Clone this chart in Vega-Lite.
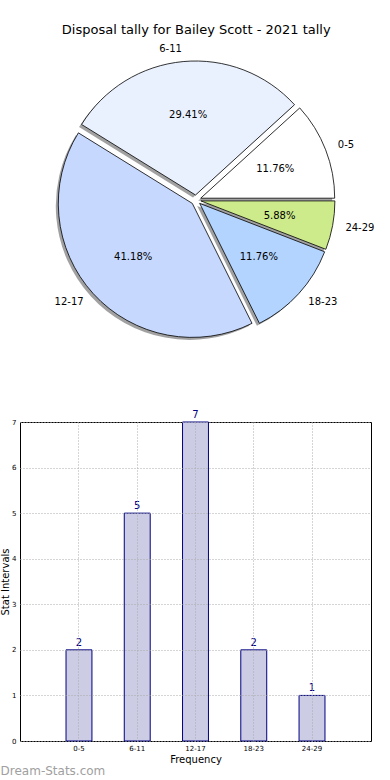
{
  "$schema": "https://vega.github.io/schema/vega-lite/v6.json",
  "padding": {"left": 0, "top": 24, "right": 0, "bottom": 0},
  "title": {"text": "Disposal tally for Bailey Scott - 2021 tally", "fontSize": 13, "fontWeight": "normal", "font": "DejaVu Sans", "offset": 4, "anchor": "middle", "dx": 9, "color": "black"},
  "config": {"font": "DejaVu Sans", "view": {"stroke": null}},
  "bounds": "flush",
  "spacing": 63,
  "datasets": {
    "d": [
      {"cat": "0-5", "count": 2, "pct": "11.76%", "ord": 1},
      {"cat": "6-11", "count": 5, "pct": "29.41%", "ord": 2},
      {"cat": "12-17", "count": 7, "pct": "41.18%", "ord": 3},
      {"cat": "18-23", "count": 2, "pct": "11.76%", "ord": 4},
      {"cat": "24-29", "count": 1, "pct": "5.88%", "ord": 5}
    ]
  },
  "vconcat": [
    {
      "width": 352,
      "height": 318,
      "data": {"name": "d"},
      "view": {"stroke": null},
      "encoding": {
        "theta": {"field": "count", "type": "quantitative", "stack": true, "scale": {"range": [1.5708, -4.7124]}},
        "order": {"field": "ord", "type": "quantitative"}
      },
      "layer": [
        {"mark": {"type": "arc", "outerRadius": 134, "fill": "#444444", "xOffset": 2.2, "yOffset": 0.7}, "encoding": {"opacity": {"condition": {"test": "datum.cat === '0-5'", "value": 0.5}, "value": 0}}},
        {"mark": {"type": "arc", "outerRadius": 134, "fill": "#444444", "xOffset": -3.0, "yOffset": -2.5}, "encoding": {"opacity": {"condition": {"test": "datum.cat === '6-11'", "value": 0.5}, "value": 0}}},
        {"mark": {"type": "arc", "outerRadius": 134, "fill": "#444444", "xOffset": -6.2, "yOffset": 5.9}, "encoding": {"opacity": {"condition": {"test": "datum.cat === '12-17'", "value": 0.5}, "value": 0}}},
        {"mark": {"type": "arc", "outerRadius": 134, "fill": "#444444", "xOffset": 1.2, "yOffset": 5.9}, "encoding": {"opacity": {"condition": {"test": "datum.cat === '18-23'", "value": 0.5}, "value": 0}}},
        {"mark": {"type": "arc", "outerRadius": 134, "fill": "#444444", "xOffset": 2.4, "yOffset": 3.4}, "encoding": {"opacity": {"condition": {"test": "datum.cat === '24-29'", "value": 0.5}, "value": 0}}},

        {"mark": {"type": "arc", "outerRadius": 134, "fill": "#ffffff", "stroke": "black", "strokeWidth": 0.8, "xOffset": 4.7, "yOffset": -1.8}, "encoding": {"opacity": {"condition": {"test": "datum.cat === '0-5'", "value": 1}, "value": 0}}},
        {"mark": {"type": "arc", "outerRadius": 134, "fill": "#eaf1fe", "stroke": "black", "strokeWidth": 0.8, "xOffset": -0.5, "yOffset": -5.0}, "encoding": {"opacity": {"condition": {"test": "datum.cat === '6-11'", "value": 1}, "value": 0}}},
        {"mark": {"type": "arc", "outerRadius": 134, "fill": "#c6d8fe", "stroke": "black", "strokeWidth": 0.8, "xOffset": -3.7, "yOffset": 3.4}, "encoding": {"opacity": {"condition": {"test": "datum.cat === '12-17'", "value": 1}, "value": 0}}},
        {"mark": {"type": "arc", "outerRadius": 134, "fill": "#b3d4fe", "stroke": "black", "strokeWidth": 0.8, "xOffset": 3.7, "yOffset": 3.4}, "encoding": {"opacity": {"condition": {"test": "datum.cat === '18-23'", "value": 1}, "value": 0}}},
        {"mark": {"type": "arc", "outerRadius": 134, "fill": "#ceeb8b", "stroke": "black", "strokeWidth": 0.8, "xOffset": 4.9, "yOffset": 0.9}, "encoding": {"opacity": {"condition": {"test": "datum.cat === '24-29'", "value": 1}, "value": 0}}},

        {"mark": {"type": "text", "radius": 80, "fontSize": 10, "color": "black", "xOffset": 4.7, "yOffset": -1.8}, "encoding": {"text": {"field": "pct"}, "opacity": {"condition": {"test": "datum.cat === '0-5'", "value": 1}, "value": 0}}},
        {"mark": {"type": "text", "radius": 80, "fontSize": 10, "color": "black", "xOffset": -0.5, "yOffset": -5.0}, "encoding": {"text": {"field": "pct"}, "opacity": {"condition": {"test": "datum.cat === '6-11'", "value": 1}, "value": 0}}},
        {"mark": {"type": "text", "radius": 80, "fontSize": 10, "color": "black", "xOffset": -3.7, "yOffset": 3.4}, "encoding": {"text": {"field": "pct"}, "opacity": {"condition": {"test": "datum.cat === '12-17'", "value": 1}, "value": 0}}},
        {"mark": {"type": "text", "radius": 80, "fontSize": 10, "color": "black", "xOffset": 3.7, "yOffset": 3.4}, "encoding": {"text": {"field": "pct"}, "opacity": {"condition": {"test": "datum.cat === '18-23'", "value": 1}, "value": 0}}},
        {"mark": {"type": "text", "radius": 80, "fontSize": 10, "color": "black", "xOffset": 4.9, "yOffset": 0.9}, "encoding": {"text": {"field": "pct"}, "opacity": {"condition": {"test": "datum.cat === '24-29'", "value": 1}, "value": 0}}},

        {"mark": {"type": "text", "radius": 147, "fontSize": 10, "color": "black", "align": "left", "xOffset": 4.7, "yOffset": -1.8}, "encoding": {"text": {"field": "cat"}, "opacity": {"condition": {"test": "datum.cat === '0-5'", "value": 1}, "value": 0}}},
        {"mark": {"type": "text", "radius": 147, "fontSize": 10, "color": "black", "align": "right", "xOffset": -0.5, "yOffset": -5.0}, "encoding": {"text": {"field": "cat"}, "opacity": {"condition": {"test": "datum.cat === '6-11'", "value": 1}, "value": 0}}},
        {"mark": {"type": "text", "radius": 147, "fontSize": 10, "color": "black", "align": "right", "xOffset": -3.7, "yOffset": 3.4}, "encoding": {"text": {"field": "cat"}, "opacity": {"condition": {"test": "datum.cat === '12-17'", "value": 1}, "value": 0}}},
        {"mark": {"type": "text", "radius": 147, "fontSize": 10, "color": "black", "align": "left", "xOffset": 3.7, "yOffset": 3.4}, "encoding": {"text": {"field": "cat"}, "opacity": {"condition": {"test": "datum.cat === '18-23'", "value": 1}, "value": 0}}},
        {"mark": {"type": "text", "radius": 147, "fontSize": 10, "color": "black", "align": "left", "xOffset": 4.9, "yOffset": 0.9}, "encoding": {"text": {"field": "cat"}, "opacity": {"condition": {"test": "datum.cat === '24-29'", "value": 1}, "value": 0}}}
      ]
    },
    {
      "width": 351,
      "height": 319,
      "data": {"name": "d"},
      "view": {"stroke": "black", "strokeWidth": 1},
      "title": {"text": "Dream-Stats.com", "orient": "bottom", "anchor": "start", "frame": "bounds", "fontSize": 12, "fontWeight": "normal", "color": "#a0a0a0", "offset": 2},
      "encoding": {
        "x": {"field": "cat", "type": "nominal", "sort": null,
          "scale": {"paddingInner": 0.555, "paddingOuter": 0.79},
          "axis": {"labelAngle": 0, "labelFontSize": 7, "labelPadding": 3, "labelColor": "black", "ticks": false, "domain": false, "grid": true, "gridDash": [1, 2], "gridColor": "#aaaaaa", "bandPosition": 0.5, "zindex": 1, "title": "Frequency", "titleFontSize": 10, "titleFontWeight": "normal", "titlePadding": 3, "titleColor": "black"}},
        "y": {"field": "count", "type": "quantitative", "scale": {"domain": [0, 7], "nice": false},
          "axis": {"values": [0, 1, 2, 3, 4, 5, 6, 7], "labelFontSize": 7, "labelPadding": 4, "labelColor": "black", "ticks": false, "domain": false, "grid": true, "gridDash": [1, 2], "gridColor": "#aaaaaa", "zindex": 1, "title": "Stat Intervals", "titleFontSize": 10, "titleFontWeight": "normal", "titlePadding": 1, "titleColor": "black"}}
      },
      "layer": [
        {"mark": {"type": "bar", "fill": "#cccce5", "stroke": "#000080", "strokeWidth": 1}},
        {"mark": {"type": "text", "baseline": "bottom", "dy": -2, "fontSize": 10, "color": "#000080"}, "encoding": {"text": {"field": "count", "type": "quantitative"}}}
      ]
    }
  ]
}
